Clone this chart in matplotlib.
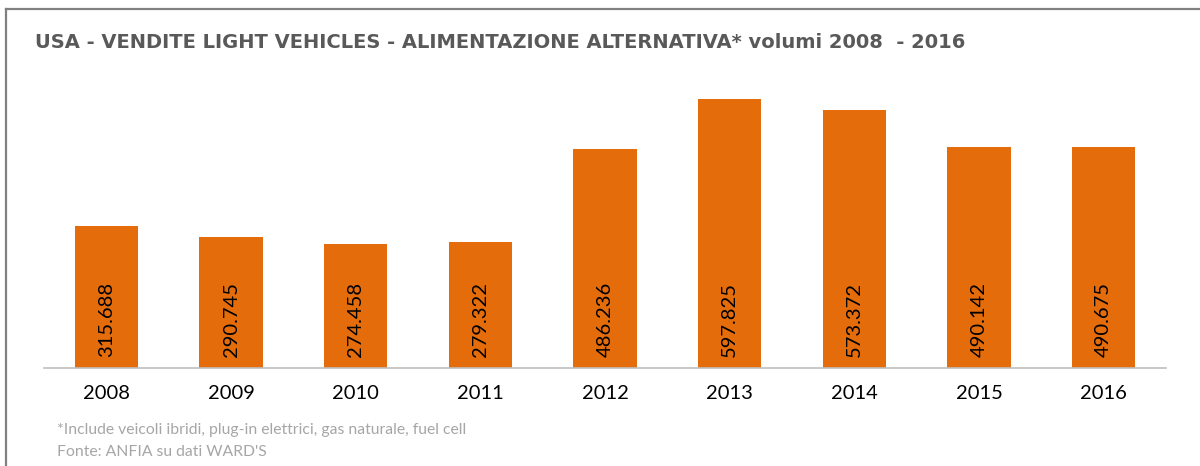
import matplotlib
matplotlib.use("Agg")
import matplotlib.pyplot as plt
from matplotlib.lines import Line2D

years = ["2008", "2009", "2010", "2011", "2012", "2013", "2014", "2015", "2016"]
volumes = [315688, 290745, 274458, 279322, 486236, 597825, 573372, 490142, 490675]
value_labels = ["315.688", "290.745", "274.458", "279.322", "486.236",
                "597.825", "573.372", "490.142", "490.675"]

title = "USA - VENDITE LIGHT VEHICLES - ALIMENTAZIONE ALTERNATIVA* volumi 2008  - 2016"
note1 = "*Include veicoli ibridi, plug-in elettrici, gas naturale, fuel cell"
note2 = "Fonte: ANFIA su dati WARD'S"

W, H = 1200, 466
fig = plt.figure(figsize=(W / 100, H / 100), dpi=100)
ax = fig.add_axes([44 / W, 1 - 368 / H, (1166 - 44) / W, (368 - 70) / H])

x = list(range(len(years)))
ax.bar(x, volumes, width=0.51, color="#E46C0A", zorder=2)
ax.set_xlim(-0.5, len(years) - 0.5)
ax.set_ylim(0, 662000)

for xi, lab in zip(x, value_labels):
    ax.text(xi, 24000, lab, rotation=90, ha="center", va="bottom",
            fontsize=14.5, family="Lato", color="black", zorder=3)

ax.set_xticks(x)
ax.set_xticklabels(years, fontsize=14.5, family="Lato", color="black")
ax.tick_params(axis="x", length=0, pad=12)
ax.set_yticks([])
for s in ["top", "right", "left"]:
    ax.spines[s].set_visible(False)
ax.spines["bottom"].set_color("#BFBFBF")
ax.spines["bottom"].set_linewidth(1.2)
ax.spines["bottom"].set_zorder(4)

fig.text(35 / W, 1 - 42 / H, title, ha="left", va="center", fontsize=14,
         fontweight="bold", family="DejaVu Sans", color="#595959")
fig.text(57 / W, 1 - 430 / H, note1, ha="left", va="center", fontsize=11.3,
         family="Lato", color="#A6A6A6")
fig.text(57 / W, 1 - 452 / H, note2, ha="left", va="center", fontsize=11.3,
         family="Lato", color="#A6A6A6")

fig.add_artist(Line2D([6 / W, 6 / W], [0, 1 - 9 / H], color="#808080", lw=1.6))
fig.add_artist(Line2D([6 / W, 1], [1 - 9 / H, 1 - 9 / H], color="#808080", lw=1.6))

fig.savefig("out.png", dpi=100)
